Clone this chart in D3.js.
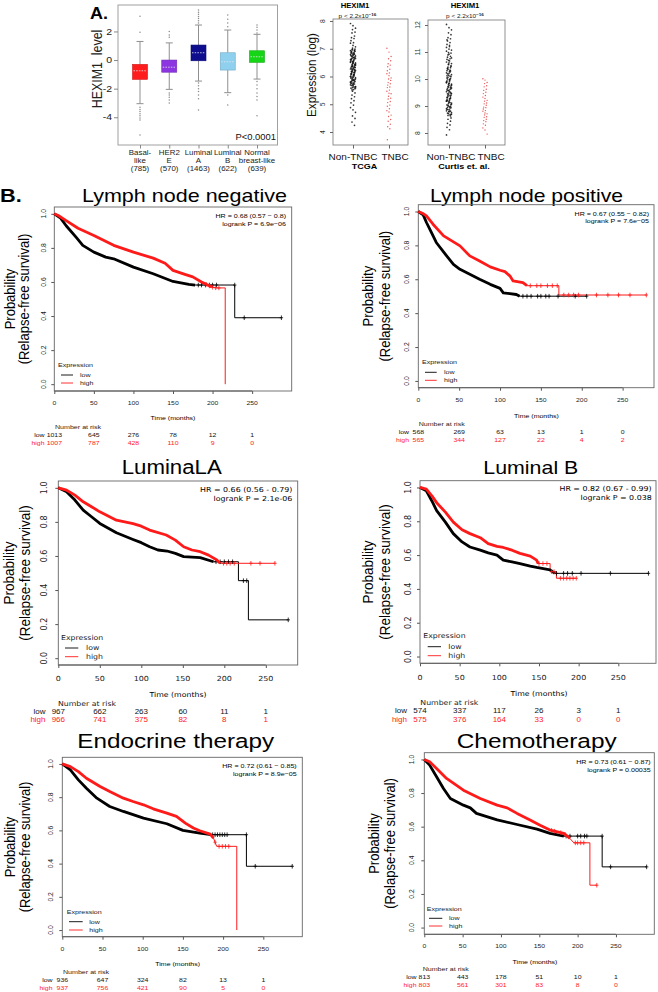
<!DOCTYPE html>
<html><head><meta charset="utf-8">
<script src="https://cdn.jsdelivr.net/npm/d3@7"></script>
<style>body{margin:0;background:#fff}svg{display:block}</style>
</head><body>
<svg id="fig" width="658" height="992"></svg>
<script>
// ---------------- DATA ----------------
// Panel A: box plot
const boxGroups = ["Basal-like","HER2 E","Luminal A","Luminal B","Normal breast-like"];
const boxLabelLines = [["Basal-","like","(785)"],["HER2","E","(570)"],["Luminal","A","(1463)"],["Luminal","B","(622)"],["Normal","breast-like","(639)"]];
const boxColors = ["#ff1c1c","#8c35e0","#0d0d8e","#8fd0ef","#16d516"];
// [lower whisker, q1, median, q3, upper whisker]
const boxStats = [
  [-3.05,-1.35,-0.75,-0.3,1.3],
  [-2.05,-0.85,-0.5,0.0,1.2],
  [-1.47,-0.05,0.51,1.05,2.45],
  [-2.28,-0.7,-0.12,0.51,2.1],
  [-1.33,-0.16,0.23,0.65,1.8]
];
const boxOutliers = [
  [1.94,3.07,-3.3,-3.45,-3.6,-3.75,-3.9,-4.05,-4.2,-5.24],
  [1.6,1.75,2.0,-2.3,-2.45,-2.6,-2.8,-3.0],
  [2.6,2.75,2.9,3.05,3.2,3.35,3.5,-1.6,-1.8,-2.0,-2.2,-2.45,-2.7,-3.5],
  [2.33,2.6,2.85,3.15,-2.45,-3.15],
  [1.9,2.1,2.3,2.45,-1.5,-1.75,-2.0,-2.3,-2.55,-2.8,-3.9]
];
const boxTicks = [-4,-2,0,2];
const boxPText = "P<0.0001";

// Panel A: scatter plots
const scatterTitles = ["TCGA","Curtis et. al."];
const scatterGroups = ["Non-TNBC","TNBC"];
const tcgaTicks = [4,5,6,7,8];
const curtisTicks = [8,9,10,11,12];
const tcgaNonTNBC = [7.91,7.83,7.74,7.69,7.6,7.57,7.46,7.4,7.37,7.29,7.22,7.2,7.12,7.07,7.02,
 6.99,6.96,6.92,6.9,6.86,6.85,6.81,6.79,6.77,6.74,6.71,6.7,6.66,6.64,6.63,6.6,6.57,6.55,6.53,6.5,6.49,6.46,6.43,6.42,6.38,6.37,6.34,6.31,6.3,6.27,6.26,6.22,6.2,6.18,6.16,6.13,6.11,6.08,6.06,6.04,6.01,5.99,5.96,5.93,5.9,5.89,5.85,5.83,5.79,5.76,5.74,5.7,5.66,5.63,5.6,5.56,5.52,
 6.95,6.88,6.83,6.76,6.68,6.61,6.52,6.45,6.4,6.33,6.24,6.15,6.09,6.02,5.94,5.87,5.81,5.72,5.64,
 6.97,6.91,6.84,6.8,6.73,6.69,6.62,6.58,6.51,6.47,6.41,6.36,6.32,6.28,6.23,6.19,6.14,6.1,6.05,6.0,5.97,5.92,5.86,5.82,5.77,5.73,5.68,5.62,5.58,5.53,
 6.93,6.78,6.65,6.54,6.44,6.35,6.25,6.17,6.07,5.98,5.88,5.78,5.69,5.59,
 5.47,5.41,5.33,5.27,5.2,5.13,5.05,4.97,4.88,4.8,4.71,4.58,4.49,4.36,4.24];
const tcgaTNBC = [7.02,6.88,6.72,6.64,6.57,6.46,6.41,6.35,6.26,6.21,6.13,6.1,6.03,5.95,5.91,5.86,5.78,5.74,5.69,5.62,5.6,5.51,5.47,5.4,5.38,5.29,5.22,5.19,5.1,5.06,4.97,4.93,4.84,4.77,4.72,4.61,4.56,4.45,4.39,4.28,4.19,4.12,3.72];
const curtisNonTNBC = [12.02,11.9,11.82,11.71,11.64,11.53,11.49,11.41,11.35,11.28,11.25,11.17,11.11,11.07,10.98,10.96,10.89,10.84,10.81,10.75,10.73,10.67,10.63,10.6,
 10.57,10.53,10.49,10.44,10.42,10.38,10.33,10.31,10.28,10.23,10.21,10.16,10.14,10.09,10.07,10.02,10.0,9.97,9.93,9.9,9.88,9.84,9.81,9.79,9.74,9.72,9.69,9.65,9.62,9.6,9.55,9.53,9.49,9.46,9.44,9.4,9.37,9.34,9.31,9.27,9.25,9.21,9.18,9.16,9.11,9.09,9.05,9.02,8.99,8.95,8.93,8.88,8.86,8.82,8.79,8.76,8.72,8.69,8.65,8.63,
 10.4,10.26,10.12,9.99,9.86,9.76,9.67,9.57,9.47,9.38,9.29,9.2,9.13,9.04,8.97,8.9,8.8,8.7,
 10.55,10.47,10.36,10.3,10.19,10.11,10.04,9.95,9.89,9.83,9.77,9.7,9.64,9.58,9.51,9.45,9.39,9.32,9.26,9.19,9.14,9.07,9.0,8.94,8.87,8.81,8.74,8.67,
 11.45,11.2,11.03,10.92,10.78,10.69,
 8.56,8.51,8.44,8.36,8.3,8.21,8.12,7.93];
const curtisTNBC = [10.01,9.96,9.87,9.83,9.75,9.71,9.62,9.58,9.51,9.46,9.39,9.33,9.28,9.21,9.18,9.11,9.08,9.03,8.96,8.94,8.89,8.83,8.81,8.74,8.71,8.67,8.6,8.58,8.51,8.46,8.42,8.34,8.29,8.19,8.11,7.96];

// Panel B: Kaplan-Meier
const kmTitles = ["Lymph node negative","Lymph node positive","LuminaLA","Luminal B","Endocrine therapy","Chemotherapy"];
const kmHR = [
  ["HR = 0.68 (0.57 \u2212 0.8)","logrank P = 6.9e\u221206"],
  ["HR = 0.67 (0.55 \u2212 0.82)","logrank P = 7.6e\u221205"],
  ["HR = 0.66 (0.56 - 0.79)","logrank P = 2.1e-06"],
  ["HR = 0.82 (0.67 - 0.99)","logrank P = 0.038"],
  ["HR = 0.72 (0.61 \u2212 0.85)","logrank P = 8.9e\u221205"],
  ["HR = 0.73 (0.61 \u2212 0.87)","logrank P = 0.00035"]
];
const kmTimeTicks = [0,50,100,150,200,250];
const kmProbTicks = [0,0.2,0.4,0.6,0.8,1.0];
const kmXMax = [300,288.4,288.4,297.5,298.5,300];
const kmRiskLow = [[1013,645,276,78,12,1],[568,269,63,13,1,0],[967,662,263,60,11,1],[574,337,117,26,3,1],[936,647,324,82,13,1],[813,443,178,51,10,1]];
const kmRiskHigh = [[1007,787,428,110,9,0],[565,344,127,22,4,2],[966,741,375,82,8,1],[575,376,164,33,0,0],[937,756,421,90,5,0],[803,561,301,83,8,0]];
const kmLowCurves = [
  [[0,1],[8,0.975],[15,0.93],[28,0.86],[36,0.815],[50,0.775],[65,0.746],[75,0.736],[100,0.687],[125,0.648],[150,0.603],[170,0.586],[178,0.582],[228,0.582],[228,0.39],[287,0.39]],
  [[0,1],[6,0.98],[10,0.935],[16,0.876],[22,0.817],[33,0.748],[43,0.688],[51,0.659],[63,0.63],[75,0.6],[88,0.57],[100,0.546],[104,0.52],[120,0.51],[124,0.5],[206,0.5]],
  [[0,1],[10,0.977],[20,0.928],[30,0.869],[40,0.83],[50,0.791],[70,0.736],[90,0.697],[100,0.678],[110,0.654],[120,0.635],[131,0.629],[141,0.615],[151,0.596],[171,0.59],[187,0.566],[217,0.566],[217,0.455],[229,0.455],[229,0.225],[277,0.225]],
  [[0,1],[8,0.98],[15,0.92],[21,0.863],[32,0.795],[42,0.727],[53,0.678],[63,0.648],[76,0.629],[86,0.613],[97,0.6],[105,0.57],[116,0.56],[126,0.55],[139,0.535],[147,0.527],[164,0.512],[170,0.492],[288,0.492]],
  [[0,1],[10,0.964],[20,0.904],[30,0.854],[43,0.794],[59,0.744],[76,0.714],[101,0.674],[130,0.64],[150,0.6],[171,0.584],[185,0.574],[229,0.574],[229,0.384],[286,0.384]],
  [[0,1],[7,0.966],[16,0.897],[25,0.827],[34,0.768],[51,0.728],[60,0.712],[68,0.679],[95,0.64],[121,0.613],[147,0.585],[164,0.56],[182,0.544],[232,0.544],[232,0.361],[290,0.361]]
];
const kmHighCurves = [
  [[0,1],[5,0.99],[15,0.96],[30,0.915],[50,0.873],[75,0.815],[100,0.775],[125,0.74],[140,0.71],[150,0.668],[165,0.645],[175,0.63],[186,0.6],[199,0.57],[205,0.565],[216,0.565],[216,0]],
  [[0,1],[5,0.99],[10,0.974],[18,0.925],[31,0.856],[51,0.797],[63,0.738],[75,0.708],[88,0.673],[100,0.653],[106,0.645],[112,0.62],[116,0.59],[128,0.58],[133,0.562],[172,0.562],[172,0.507],[279,0.507]],
  [[0,1],[10,0.986],[20,0.957],[30,0.918],[40,0.889],[50,0.859],[70,0.81],[90,0.79],[100,0.775],[110,0.752],[130,0.723],[141,0.693],[151,0.654],[161,0.635],[171,0.625],[181,0.605],[191,0.576],[195,0.557],[261,0.557]],
  [[0,1],[8,0.99],[15,0.95],[21,0.91],[32,0.854],[42,0.795],[53,0.75],[63,0.727],[76,0.703],[86,0.668],[97,0.652],[105,0.645],[116,0.629],[126,0.61],[139,0.594],[147,0.57],[149,0.55],[164,0.55],[164,0.502],[172,0.502],[172,0.463],[197,0.463]],
  [[0,1],[10,0.984],[20,0.954],[30,0.914],[47,0.864],[59,0.834],[76,0.794],[88,0.774],[101,0.754],[113,0.73],[130,0.704],[142,0.684],[153,0.644],[163,0.614],[171,0.598],[184,0.578],[188,0.554],[192,0.504],[217,0.504],[217,0]],
  [[0,1],[7,0.986],[16,0.946],[29,0.887],[51,0.817],[73,0.768],[95,0.728],[108,0.712],[121,0.679],[138,0.64],[151,0.609],[164,0.58],[182,0.56],[190,0.53],[195,0.504],[216,0.504],[216,0.252],[225,0.252]]
];
const kmLowDenseEnd = [178,124,187,170,185,182];
const kmHighDenseEnd = [199,133,195,149,188,190];
const kmLowCensor = [[182,186,191,196,200,205,228,240,287],[128,133,138,146,150,156,160,171,192,206],[190,195,200,205,210,223,227,277],[172,181,186,192,203,240,288],[187,190,193,196,199,202,205,229,240,286],[185,190,200,204,209,212,232,243,290]];
const kmHighCensor = [[192,196,200,204,208],[137,145,150,158,164,170,178,184,190,196,218,232,245,259,279],[199,203,207,212,232,243,261],[150,155,160,166,169,177,181,185,189,193,197],[190,195,199,203,207],[166,170,178,184,197,200,204,208,225]];

// ---------------- LAYOUT / STYLE ----------------
const ARIAL = "'Liberation Sans', Arial, sans-serif";
const DEJAVU = "'DejaVu Sans', sans-serif";
const SX = 1.15;
const RED = "#ff1a1a";
const svg = d3.select("#fig");
svg.append("rect").attr("width",658).attr("height",992).attr("fill","#fff");

function T(g, x, y, s, o) {
  o = o || {};
  let tr = `translate(${x},${y})`;
  const gg = g.append("g");
  const t = gg.append("text").text(s)
    .attr("font-family", o.ff || ARIAL)
    .attr("fill", o.fill || "#000")
    .attr("text-anchor", o.anchor || "start");
  if (o.weight) t.attr("font-weight", o.weight);
  if (o.dy) t.attr("dy", o.dy);
  if (o.len) {
    t.attr("font-size", o.fs).attr("textLength", o.len).attr("lengthAdjust","spacingAndGlyphs");
    gg.attr("transform", tr + (o.rot ? ` rotate(${o.rot})` : ""));
  } else if (o.rot) {
    t.attr("font-size", o.fs);
    gg.attr("transform", tr + ` scale(${SX},1) rotate(${o.rot})`);
  } else {
    t.attr("font-size", o.fs / SX);
    gg.attr("transform", tr + ` scale(${SX},1)`);
  }
  return t;
}

// ---------------- PANEL A: BOX PLOT ----------------
(function(){
  const g = svg.append("g");
  const L=118, R=277.5, TT=5, B=145;
  const x = d3.scalePoint().domain(boxGroups).range([140,257]);
  const y = d3.scaleLinear().domain([-5.94,3.85]).range([B,TT]);
  T(g, 90, 18.5, "A.", {fs:18, weight:"bold"});
  g.append("rect").attr("x",L).attr("y",TT).attr("width",R-L).attr("height",B-TT)
    .attr("fill","none").attr("stroke","#a0a0a0").attr("stroke-width",1);
  g.append("g").attr("transform",`translate(${L},0)`)
    .call(d3.axisLeft(y).tickValues(boxTicks).tickSize(4).tickFormat(""))
    .call(a=>{a.select(".domain").remove(); a.selectAll("line").attr("stroke","#888");});
  boxTicks.forEach(v=>T(g, 112, y(v), String(v), {fs:10.5, anchor:"end", dy:"0.35em", fill:"#222"}));
  g.append("g").attr("transform",`translate(0,${B})`)
    .call(d3.axisBottom(x).tickSize(3.5).tickFormat(""))
    .call(a=>{a.select(".domain").remove(); a.selectAll("line").attr("stroke","#888");});
  T(g, 97, 69, "HEXIM1\u00a0 level", {fs:12.4, rot:-90, anchor:"middle", dy:"0.35em", fill:"#222"});
  const bw = 15;
  boxGroups.forEach((grp,i)=>{
    const cx = x(grp), s = boxStats[i];
    const wc = "#8f8f8f";
    g.append("line").attr("x1",cx).attr("x2",cx).attr("y1",y(s[4])).attr("y2",y(s[3])).attr("stroke",wc);
    g.append("line").attr("x1",cx).attr("x2",cx).attr("y1",y(s[1])).attr("y2",y(s[0])).attr("stroke",wc);
    [s[0],s[4]].forEach(v=>g.append("line").attr("x1",cx-3.5).attr("x2",cx+3.5).attr("y1",y(v)).attr("y2",y(v)).attr("stroke",wc));
    g.append("rect").attr("x",cx-bw/2).attr("y",y(s[3])).attr("width",bw).attr("height",y(s[1])-y(s[3]))
      .attr("fill",boxColors[i]).attr("stroke",d3.color(boxColors[i]).darker(0.6)).attr("stroke-width",0.6);
    g.append("line").attr("x1",cx-bw/2+1).attr("x2",cx+bw/2-1).attr("y1",y(s[2])).attr("y2",y(s[2]))
      .attr("stroke","#e8e8e8").attr("stroke-width",0.8).attr("stroke-dasharray","1.5,1.2");
    boxOutliers[i].forEach(v=>g.append("circle").attr("cx",cx).attr("cy",y(v)).attr("r",0.75).attr("fill","#8a8a8a"));
    const yl = [152.3,160.3,168.3];
    boxLabelLines[i].forEach((ln,k)=>T(g, cx, yl[k], ln, {fs:7.9, anchor:"middle", dy:"0.35em", fill:"#222"}));
  });
  T(g, 276, 140, boxPText, {fs:9.4, anchor:"end", fill:"#111"});
})();

// ---------------- PANEL A: SCATTER PLOTS ----------------
const scatterLayout = [
  {L:333,R:408,T:19,B:145,dom:[3.532,8.072],ticks:tcgaTicks,tickC:322,gx:[353,389],lab:[353,395],dsx:364.5,tx:355,px:357.5,ylab:true,data:[tcgaNonTNBC,tcgaTNBC]},
  {L:428,R:505,T:20,B:145,dom:[7.556,12.185],ticks:curtisTicks,tickC:417.7,gx:[449,485],lab:[451,491],dsx:464,tx:465,px:465,ylab:false,data:[curtisNonTNBC,curtisTNBC]}
];
scatterLayout.forEach((Lo,si)=>{
  const g = svg.append("g");
  const y = d3.scaleLinear().domain(Lo.dom).range([Lo.B,Lo.T]);
  const x = d3.scaleOrdinal().domain(scatterGroups).range(Lo.gx);
  g.append("rect").attr("x",Lo.L).attr("y",Lo.T).attr("width",Lo.R-Lo.L).attr("height",Lo.B-Lo.T)
    .attr("fill","none").attr("stroke","#777").attr("stroke-width",0.8);
  g.append("g").attr("transform",`translate(${Lo.L},0)`)
    .call(d3.axisLeft(y).tickValues(Lo.ticks).tickSize(3).tickFormat(""))
    .call(a=>{a.select(".domain").remove(); a.selectAll("line").attr("stroke","#666");});
  Lo.ticks.forEach(v=>T(g, Lo.tickC, y(v), String(v), {fs:6.8, rot:-90, anchor:"middle", dy:"0.35em", fill:"#333"}));
  g.append("g").attr("transform",`translate(0,${Lo.B})`)
    .call(d3.axisBottom(x).tickSize(3.5).tickFormat(""))
    .call(a=>{a.select(".domain").remove(); a.selectAll("line").attr("stroke","#666");});
  scatterGroups.forEach((grp,k)=>{
    const vals = Lo.data[k];
    const col = k===0 ? "#111" : "#e43a3a";
    vals.forEach((v,i)=>{
      const off = ((i*5)%11 - 5) * (k===0 ? 0.5 : 0.42);
      g.append("circle").attr("cx", x(grp)+off).attr("cy", y(v)).attr("r",k===0?0.85:0.7).attr("fill",col).attr("fill-opacity",0.85);
    });
    T(g, Lo.lab[k], 160, grp, {fs:10, anchor:"middle", fill:"#111"});
  });
  T(g, Lo.dsx, 168.5, scatterTitles[si], {fs:9, anchor:"middle", weight:"bold"});
  T(g, Lo.tx, 7.5, "HEXIM1", {fs:7.7, anchor:"middle", weight:"bold"});
  const p = T(g, Lo.px, 18, "p < 2.2x10", {fs:6.4, anchor:"middle", fill:"#222"});
  p.append("tspan").attr("font-size",4).attr("dy",-2.5).attr("font-weight","bold").text("\u221216");
  if (Lo.ylab) T(g, 311, 75, "Expression (log)", {fs:11.6, rot:-90, anchor:"middle", dy:"0.35em", fill:"#111"});
});

// ---------------- PANEL B: KM ----------------
T(svg, 0, 202, "B.", {fs:21.7, weight:"bold"});
const small = {ff:ARIAL, tick:6.8, hr:7.1, leg:7.1, time:7, nar:7.1, risk:6.9, ylab:13, riskff:ARIAL};
const mid = {ff:DEJAVU, tick:8.0, hr:7.9, leg:7.8, time:7.8, nar:7.8, risk:8, ylab:13.5, riskff:ARIAL};
const kmLayout = [
  {L:54.3,R:291.7,T:207,B:391, tx:184.5,ty:202,tfs:19,tw:205, ytick:43, yt:[10,24], xtickY:402.7, time:[173,418], nar:[78,427], rows:[435,443], labR:44.5, leg:[58,365,375,383,61,73,80], hr:[286,215.7,224], st:small},
  {L:418.3,R:654,T:204.7,B:387.7, tx:526.5,ty:201.5,tfs:19,tw:193, ytick:406.7, yt:[367.7,384.3], xtickY:400, time:[536.5,416], nar:[441.7,424], rows:[431.7,439.7], labR:409, leg:[422,362,372.3,380.3,425,436.7,444], hr:[649,214,221.3], st:small},
  {L:58.3,R:297.7,T:481,B:665, tx:171.7,ty:474,tfs:19.5,tw:100, ytick:43.3, yt:[8.3,25], xtickY:678.3, time:[178,695], nar:[87,704], rows:[711.7,720], labR:45.5, leg:[61,637.3,648,656.7,65,78.3,86], hr:[292.3,490,498.7], st:mid},
  {L:420,R:656,T:480.7,B:663.3, tx:530.8,ty:473.5,tfs:19,tw:95, ytick:407.7, yt:[367.7,384.3], xtickY:677.3, time:[539,693.3], nar:[449.3,702.3], rows:[711,719.3], labR:407, leg:[423.3,636,646.7,655.7,427.7,441,448.3], hr:[651.7,489,497.3], st:mid},
  {L:62.3,R:302.3,T:757.3,B:936.7, tx:175.7,ty:748.3,tfs:20.5,tw:197, ytick:50, yt:[9.3,25], xtickY:949, time:[177.7,964], nar:[86,972.3], rows:[980.3,988.3], labR:52.5, leg:[66.7,912.3,921.7,930,69,82.7,89.3], hr:[296.7,766,774.3], st:small},
  {L:424.3,R:654.3,T:752.7,B:934.3, tx:536.7,ty:748,tfs:20.5,tw:160, ytick:411.7, yt:[373.3,390], xtickY:945.7, time:[535,961.7], nar:[445.7,969.3], rows:[977.3,985.3], labR:416.5, leg:[426.7,909,918.3,926,429,442.3,449], hr:[650.7,762.3,770], st:small}
];

function survAt(curve, t){
  for (let k=0;k<curve.length-1;k++){
    const a=curve[k], b=curve[k+1];
    if (t>=a[0] && t<=b[0] && b[0]>a[0]) return a[1] + (b[1]-a[1])*(t-a[0])/(b[0]-a[0]);
  }
  return curve[curve.length-1][1];
}

kmLayout.forEach((Lo,i)=>{
  const g = svg.append("g");
  const st = Lo.st;
  const x = d3.scaleLinear().domain([0,kmXMax[i]]).range([Lo.L,Lo.R]);
  const y = d3.scaleLinear().domain([-0.04,1.04]).range([Lo.B,Lo.T]);
  T(g, Lo.tx, Lo.ty, kmTitles[i], {fs:Lo.tfs, len:Lo.tw, anchor:"middle"});
  g.append("g").attr("transform",`translate(0,${Lo.B})`)
    .call(d3.axisBottom(x).tickValues(kmTimeTicks).tickSize(3).tickFormat(""))
    .call(a=>{a.select(".domain").attr("stroke","#555").attr("d",`M${x(0)},0H${x(250)}`); a.selectAll("line").attr("stroke","#555");});
  g.append("g").attr("transform",`translate(${Lo.L},0)`)
    .call(d3.axisLeft(y).tickValues(kmProbTicks).tickSize(3).tickFormat(""))
    .call(a=>{a.select(".domain").remove(); a.selectAll("line").attr("stroke","#555");});
  kmTimeTicks.forEach(t=>T(g, x(t), Lo.xtickY, String(t), {fs:st.tick, ff:st.ff, anchor:"middle", dy:"0.35em", fill:"#222"}));
  kmProbTicks.forEach(p=>T(g, Lo.ytick, y(p), d3.format(".1f")(p), {fs:st.tick, ff:st.ff, rot:-90, anchor:"middle", dy:"0.35em", fill:"#222"}));
  g.append("rect").attr("x",Lo.L).attr("y",Lo.T).attr("width",Lo.R-Lo.L).attr("height",Lo.B-Lo.T)
    .attr("fill","none").attr("stroke","#666").attr("stroke-width",0.9);
  const cy = (Lo.T+Lo.B)/2;
  T(g, Lo.yt[0], cy, "Probability", {fs:st.ylab, rot:-90, anchor:"middle", dy:"0.35em"});
  T(g, Lo.yt[1], cy, "(Relapse-free survival)", {fs:st.ylab, rot:-90, anchor:"middle", dy:"0.35em"});
  const line = d3.line().x(d=>x(d[0])).y(d=>y(d[1]));
  const series = [
    {c:kmLowCurves[i], col:"#000", dense:kmLowDenseEnd[i], cens:kmLowCensor[i]},
    {c:kmHighCurves[i], col:RED, dense:kmHighDenseEnd[i], cens:kmHighCensor[i]}
  ];
  series.forEach(s=>{
    g.append("path").attr("d",line(s.c)).attr("fill","none").attr("stroke",s.col).attr("stroke-width",1);
  });
  series.forEach(s=>{
    const part = s.c.filter(d=>d[0]<=s.dense);
    g.append("path").attr("d",line(part)).attr("fill","none").attr("stroke",s.col).attr("stroke-width",2.8).attr("stroke-linejoin","round");
    s.cens.forEach(t=>{
      const px = x(t), py = y(survAt(s.c,t));
      g.append("path").attr("d",`M${px-1.7},${py}H${px+1.7}M${px},${py-2.3}V${py+2.3}`).attr("stroke",s.col).attr("stroke-width",0.8);
    });
  });
  T(g, Lo.hr[0], Lo.hr[1], kmHR[i][0], {fs:st.hr, ff:st.ff, anchor:"end", dy:"0.35em"});
  T(g, Lo.hr[0], Lo.hr[2], kmHR[i][1], {fs:st.hr, ff:st.ff, anchor:"end", dy:"0.35em"});
  const lg = Lo.leg;
  T(g, lg[0], lg[1], "Expression", {fs:st.leg, ff:st.ff, dy:"0.35em", fill:"#222"});
  [["low","#000",lg[2]],["high",RED,lg[3]]].forEach(([lab,col,yy])=>{
    g.append("line").attr("x1",lg[4]).attr("x2",lg[5]).attr("y1",yy).attr("y2",yy).attr("stroke",col).attr("stroke-width",0.9);
    T(g, lg[6], yy, lab, {fs:st.leg, ff:st.ff, dy:"0.35em", fill:"#222"});
  });
  T(g, Lo.time[0], Lo.time[1], "Time (months)", {fs:st.time, ff:st.ff, anchor:"middle", dy:"0.35em"});
  T(g, Lo.nar[0], Lo.nar[1], "Number at risk", {fs:st.nar, ff:st.ff, anchor:"middle", dy:"0.35em", fill:"#222"});
  [[kmRiskLow[i],"low","#111",Lo.rows[0]],[kmRiskHigh[i],"high",RED,Lo.rows[1]]].forEach(([vals,lab,col,yy])=>{
    T(g, Lo.labR, yy, lab, {fs:st.risk, ff:st.riskff, anchor:"end", dy:"0.35em", fill:col});
    vals.forEach((v,k)=>T(g, x(kmTimeTicks[k]), yy, String(v), {fs:st.risk, ff:st.riskff, anchor:"middle", dy:"0.35em", fill:col}));
  });
});
</script>
</body></html>
